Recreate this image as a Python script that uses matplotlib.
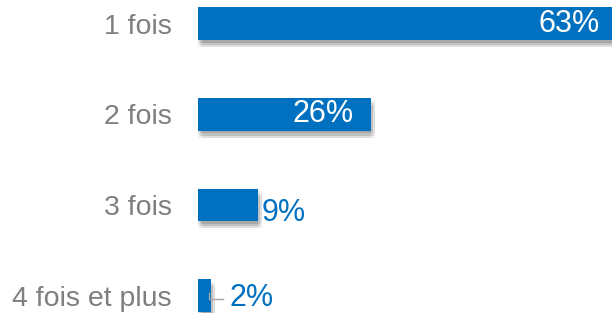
import matplotlib
matplotlib.use("Agg")
import matplotlib.pyplot as plt
import matplotlib.patheffects as pe

categories = ["1 fois", "2 fois", "3 fois", "4 fois et plus"]
values = [63, 26, 9, 2]
labels = ["63%", "26%", "9%", "2%"]

BLUE = "#0070C0"
GREY = "#7F7F7F"
FONT = "Liberation Sans"

fig = plt.figure(figsize=(6.12, 3.13), dpi=100)
ax = fig.add_axes([198/612, 0, 414/612, 1])
ax.set_xlim(0, 62.2)
ax.set_ylim(3.19, -0.26)

shadow = []
for dx in (0, 1.5, 3):
    for dy in (-2, -3.5, -5):
        shadow.append(pe.SimplePatchShadow(offset=(dx, dy), shadow_rgbFace="#000000", alpha=0.045))
shadow.append(pe.Normal())
bars = ax.barh(range(len(values)), values, height=0.36, color=BLUE, zorder=3)
for b in bars:
    b.set_path_effects(shadow)

for i, (v, lab) in enumerate(zip(values, labels)):
    if v >= 20:
        ax.text(v - 2.6, i, lab, ha="right", va="center", color="white",
                fontsize=22, family=FONT, zorder=4, clip_on=False)
    elif v >= 5:
        ax.text(v + 0.6, i + 0.09, lab, ha="left", va="center", color=BLUE,
                fontsize=22, family=FONT, zorder=4)
    else:
        ax.plot([v - 0.3, v - 0.3, v + 1.7], [i - 0.03, i + 0.04, i + 0.04],
                color="#A6A6A6", lw=1, zorder=5)
        ax.text(v + 2.8, i + 0.03, lab, ha="left", va="center", color=BLUE,
                fontsize=22, family=FONT, zorder=4)

ax.set_yticks(range(len(categories)))
ax.set_yticklabels(categories, fontsize=20.5, color=GREY, family=FONT)
ax.tick_params(axis="y", length=0, pad=19)
ax.set_xticks([])
for s in ax.spines.values():
    s.set_visible(False)
ax.patch.set_alpha(0)

fig.savefig("out.png", dpi=100)
